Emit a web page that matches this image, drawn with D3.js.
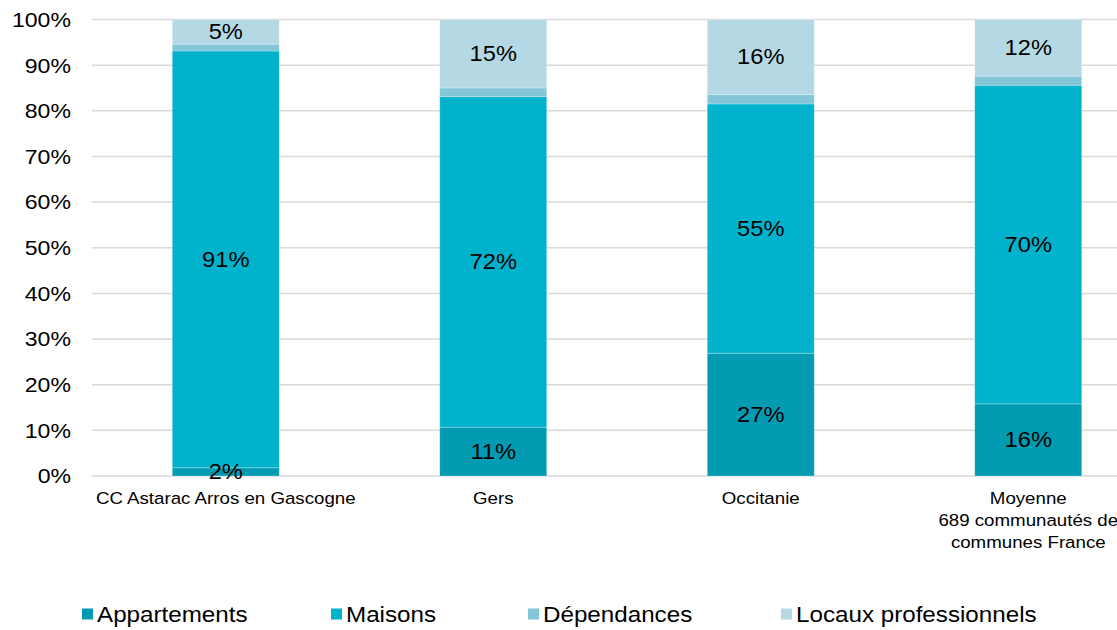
<!DOCTYPE html>
<html>
<head>
<meta charset="utf-8">
<script src="https://cdn.jsdelivr.net/npm/d3@7"></script>
<style>
  body { margin: 0; background: #fff; }
  svg { font-family: "Liberation Sans", Arial, sans-serif; }
</style>
</head>
<body>
<svg id="chart" width="1117" height="630"></svg>
<script>
const categories = [
  ['CC Astarac Arros en Gascogne'],
  ['Gers'],
  ['Occitanie'],
  ['Moyenne', '689 communautés de', 'communes France']
];
const seriesNames = ['Appartements', 'Maisons', 'Dépendances', 'Locaux professionnels'];
const appartements = [1.8, 10.7, 26.9, 15.8];
const maisons = [91.3, 72.4, 54.6, 69.8];
const dependances = [1.5, 1.9, 2.1, 2.0];
const locaux = [5.4, 15.0, 16.4, 12.4];
const yTicks = [0, 10, 20, 30, 40, 50, 60, 70, 80, 90, 100];

const colors = ['#029bb2', '#00b2cc', '#82c6d8', '#b5d9e4'];
const showLabel = [true, true, false, true];

const svg = d3.select('#chart');
const plotLeft = 92, plotTop = 19.5, plotBottom = 476;
const step = 267.5;
const stretch = 1.1; // the reference text is slightly wide

const rows = categories.map((c, i) => ({
  key: i,
  'Appartements': appartements[i],
  'Maisons': maisons[i],
  'Dépendances': dependances[i],
  'Locaux professionnels': locaux[i]
}));

const x = d3.scaleBand()
  .domain(d3.range(categories.length))
  .range([plotLeft, plotLeft + step * categories.length])
  .paddingInner(0.6)
  .paddingOuter(0.3);

const y = d3.scaleLinear().domain([0, 100]).range([plotBottom, plotTop]);

const place = (px, py) => `translate(${px},${py}) scale(${stretch},1)`;

// grid
svg.append('g')
  .selectAll('line')
  .data(yTicks)
  .join('line')
  .attr('x1', plotLeft)
  .attr('x2', 1117)
  .attr('y1', d => y(d))
  .attr('y2', d => y(d))
  .attr('stroke', '#d9d9d9')
  .attr('stroke-width', 1.5);

// y axis labels
svg.append('g')
  .selectAll('text')
  .data(yTicks)
  .join('text')
  .attr('transform', d => place(71, y(d)))
  .attr('dy', '0.35em')
  .attr('text-anchor', 'end')
  .attr('font-size', 21)
  .attr('fill', '#000')
  .text(d => d + '%');

const stacked = d3.stack().keys(seriesNames)(rows);

const layers = svg.append('g')
  .selectAll('g')
  .data(stacked)
  .join('g')
  .attr('fill', (d, i) => colors[i]);

layers.selectAll('rect')
  .data(d => d)
  .join('rect')
  .attr('x', d => x(d.data.key))
  .attr('width', x.bandwidth())
  .attr('y', d => y(d[1]))
  .attr('height', d => y(d[0]) - y(d[1]))
  .attr('stroke', 'rgba(255,255,255,0.35)')
  .attr('stroke-width', 0.75);

// value labels
stacked.forEach((layer, si) => {
  if (!showLabel[si]) return;
  svg.append('g')
    .selectAll('text')
    .data(layer)
    .join('text')
    .attr('transform', d => place(x(d.data.key) + x.bandwidth() / 2, y((d[0] + d[1]) / 2)))
    .attr('dy', '0.35em')
    .attr('text-anchor', 'middle')
    .attr('font-size', 21.5)
    .attr('fill', '#000')
    .text(d => Math.round(d[1] - d[0]) + '%');
});

// category labels
const cat = svg.append('g')
  .selectAll('text')
  .data(categories)
  .join('text')
  .attr('transform', (d, i) => place(x(i) + x.bandwidth() / 2, 504))
  .attr('text-anchor', 'middle')
  .attr('font-size', 17)
  .attr('fill', '#000');
cat.selectAll('tspan')
  .data(d => d)
  .join('tspan')
  .attr('x', 0)
  .attr('dy', (d, i) => i === 0 ? 0 : 22)
  .text(d => d);

// legend
const legendX = [82, 331, 528, 781];
const legend = svg.append('g')
  .selectAll('g')
  .data(seriesNames)
  .join('g')
  .attr('transform', (d, i) => `translate(${legendX[i]}, 614)`);
legend.append('rect')
  .attr('x', 0)
  .attr('y', -5.5)
  .attr('width', 11)
  .attr('height', 11)
  .attr('fill', (d, i) => colors[i]);
legend.append('text')
  .attr('transform', place(15, 0))
  .attr('dy', '0.35em')
  .attr('font-size', 22)
  .attr('fill', '#000')
  .text(d => d);
</script>
</body>
</html>
